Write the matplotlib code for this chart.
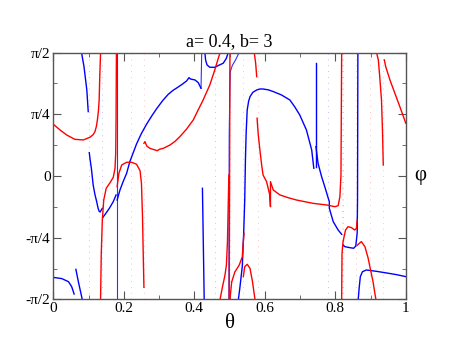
import numpy as np
import matplotlib
matplotlib.use("Agg")
import matplotlib.pyplot as plt

plt.rcParams['font.family'] = ['Liberation Serif', 'DejaVu Serif']

# phi values are given in units of pi/2
b1_t = [0, 0.024, 0.043, 0.052, 0.059]
b1_u = [-0.822, -0.832, -0.857, -0.897, -0.957]
b2_t = [0.064, 0.071, 0.082]
b2_u = [-0.757, -0.857, -1.0]
b3_t = [0.080, 0.087, 0.095, 0.099]
b3_u = [1.0, 0.886, 0.697, 0.522]
b4_t = [0.102, 0.104, 0.108, 0.113, 0.118, 0.123, 0.127, 0.130, 0.133, 0.135, 0.139]
b4_u = [0.189, 0.140, 0.060, -0.073, -0.150, -0.208, -0.262, -0.286, -0.292, -0.281, -0.262]
b5_t = [0.140, 0.147, 0.159, 0.170, 0.178]
b5_u = [-0.338, -0.311, -0.262, -0.208, -0.154]
b5v_t = [0.181, 0.181]
b5v_u = [-1.0, 1.0]
b6_t = [0.181, 0.189, 0.198, 0.208, 0.217, 0.236, 0.250, 0.265, 0.280, 0.293, 0.310,
        0.326, 0.340, 0.350, 0.365, 0.378, 0.385, 0.389, 0.402, 0.411, 0.419]
b6_u = [-0.195, -0.114, -0.046, 0.022, 0.116, 0.259, 0.345, 0.422, 0.490, 0.545, 0.610,
        0.662, 0.695, 0.713, 0.742, 0.770, 0.797, 0.786, 0.778, 0.757, 0.711]
b6s_t = [0.419, 0.421]
b6s_u = [0.711, 1.0]
b7_t = [0.430, 0.432, 0.436, 0.444, 0.458, 0.468, 0.482, 0.491, 0.496]
b7_u = [1.0, 0.940, 0.900, 0.881, 0.881, 0.895, 0.914, 0.954, 1.0]
b8_t = [0.527, 0.518, 0.508, 0.502, 0.501, 0.499, 0.498]
b8_u = [1.0, 0.946, 0.897, 0.846, 0.724, 0.346, -1.0]
b9_t = [0.423, 0.428]
b9_u = [-0.10, -1.0]
b10_t = [0.525, 0.529, 0.536, 0.540, 0.543, 0.545, 0.547, 0.550, 0.554, 0.558, 0.566,
         0.577, 0.586, 0.595, 0.610, 0.624, 0.647, 0.671, 0.685, 0.699, 0.718, 0.733, 0.739]
b10_u = [-1.0, -0.911, -0.735, -0.465, -0.195, 0.130, 0.346, 0.535, 0.605, 0.643, 0.678,
         0.697, 0.705, 0.705, 0.698, 0.684, 0.657, 0.616, 0.560, 0.495, 0.373, 0.211, 0.062]
b11_t = [0.744, 0.744]
b11_u = [0.914, 0.076]
b12_t = [0.745, 0.751, 0.761, 0.770, 0.780, 0.783, 0.783, 0.794, 0.808, 0.818]
b12_u = [0.238, 0.103, -0.005, -0.086, -0.181, -0.208, -0.262, -0.370, -0.438, -0.473]
b13_t = [0.822, 0.827, 0.841, 0.852, 0.858, 0.862, 0.863, 0.864]
b13_u = [-0.559, -0.573, -0.581, -0.586, -0.568, -0.465, -0.195, 1.0]
b14_t = [0.865, 0.868, 0.871, 0.877, 0.888, 0.917, 0.945, 0.974, 1.0]
b14_u = [-1.0, -0.897, -0.816, -0.776, -0.762, -0.773, -0.786, -0.800, -0.816]

r1_t = [0, 0.019, 0.038, 0.061, 0.085, 0.104, 0.113, 0.118, 0.122, 0.125, 0.128,
        0.130, 0.132, 0.134]
r1_u = [0.419, 0.373, 0.332, 0.297, 0.292, 0.314, 0.335, 0.359, 0.400, 0.454, 0.530,
        0.616, 0.832, 1.0]
r2_t = [0.134, 0.136, 0.139, 0.143, 0.150, 0.161, 0.170, 0.175, 0.177, 0.178, 0.179]
r2_u = [-1.0, -0.627, -0.357, -0.195, -0.100, -0.054, -0.011, 0.062, 0.184, 0.481, 1.0]
r3_t = [0.181, 0.186, 0.194, 0.208, 0.222, 0.236, 0.246, 0.250, 0.253, 0.255, 0.257]
r3_u = [-0.086, 0.022, 0.089, 0.111, 0.111, 0.095, 0.043, -0.059, -0.330, -0.627, -0.903]
r4_t = [0.257, 0.260, 0.265, 0.274, 0.288, 0.295, 0.301, 0.312, 0.331, 0.345, 0.359,
        0.378, 0.397, 0.410, 0.425, 0.444, 0.458, 0.468, 0.473]
r4_u = [0.265, 0.278, 0.243, 0.224, 0.211, 0.205, 0.216, 0.224, 0.251, 0.280, 0.319,
        0.380, 0.454, 0.530, 0.616, 0.738, 0.859, 0.954, 1.0]
r5_t = [0.501, 0.499]
r5_u = [1.0, -1.0]
r6_t = [0.473, 0.480, 0.487, 0.491, 0.494, 0.496, 0.498]
r6_u = [-1.0, -0.897, -0.803, -0.722, -0.532, -0.262, 0.008]
r7_t = [0.501, 0.506, 0.515, 0.527, 0.536, 0.539, 0.541]
r7_u = [-1.0, -0.859, -0.778, -0.724, -0.657, -0.534, -0.465]
r8_t = [0.539, 0.543, 0.550, 0.558, 0.565, 0.572]
r8_u = [-0.816, -0.735, -0.716, -0.749, -0.857, -1.0]
r9_t = [0.570, 0.574, 0.577]
r9_u = [1.0, 0.914, 0.805]
r10_t = [0.578, 0.581, 0.586, 0.591, 0.595, 0.605, 0.614, 0.616, 0.616, 0.624,
         0.643, 0.666, 0.690, 0.737, 0.775, 0.799, 0.808, 0.813, 0.816, 0.818]
r10_u = [0.468, 0.346, 0.211, 0.089, 0.008, -0.046, -0.154, -0.249, -0.046, -0.114,
         -0.154, -0.176, -0.195, -0.222, -0.235, -0.249, -0.241, -0.168, 0.008, 1.0]
r11_t = [0.818, 0.819, 0.822, 0.829, 0.836, 0.846, 0.855, 0.860, 0.862]
r11_u = [-1.0, -0.627, -0.532, -0.438, -0.411, -0.419, -0.438, -0.424, -0.357]
r12_t = [0.862, 0.868, 0.874, 0.884, 0.893, 0.898, 0.907, 0.915]
r12_u = [-0.562, -0.546, -0.532, -0.573, -0.665, -0.735, -0.857, -1.0]
r13_t = [0.917, 0.922, 0.926, 0.931, 0.934, 0.936]
r13_u = [1.0, 0.941, 0.805, 0.616, 0.346, 0.089]
r14_t = [0.939, 0.943, 0.955, 0.969, 0.983, 1.0]
r14_u = [0.941, 0.886, 0.778, 0.670, 0.562, 0.427]

# faint dotted asymptote traces
blue_dots = [0.102, 0.138, 0.182, 0.458, 0.780, 0.823]
red_dots = [0.180, 0.220, 0.257, 0.500, 0.538, 0.580, 0.820, 0.860, 0.898, 0.935]

blue_curves = [(b1_t, b1_u), (b2_t, b2_u), (b3_t, b3_u), (b4_t, b4_u), (b5_t, b5_u),
               (b6_t, b6_u), (b7_t, b7_u), (b9_t, b9_u), (b10_t, b10_u),
               (b11_t, b11_u), (b12_t, b12_u), (b13_t, b13_u), (b14_t, b14_u)]
blue_thin = [(b5v_t, b5v_u), (b6s_t, b6s_u), (b8_t, b8_u)]
red_curves = [(r1_t, r1_u), (r2_t, r2_u), (r3_t, r3_u), (r4_t, r4_u), (r5_t, r5_u),
              (r6_t, r6_u), (r7_t, r7_u), (r8_t, r8_u), (r9_t, r9_u), (r10_t, r10_u),
              (r11_t, r11_u), (r12_t, r12_u), (r13_t, r13_u), (r14_t, r14_u)]

fig = plt.figure(figsize=(4.57, 3.53), dpi=100)
ax = fig.add_axes([0.1167, 0.152, 0.7713, 0.699])

half = np.pi / 2
for x in blue_dots:
    ax.plot([x, x], [-half, half], color='#6060ff', lw=0.6, ls=(0, (1, 6)), alpha=0.5)
for x in red_dots:
    ax.plot([x, x], [-half, half], color='#ff6060', lw=0.6, ls=(0, (1, 6)), alpha=0.5)

for t, u in blue_thin:
    ax.plot(t, np.array(u) * half, color='#3030ff', lw=0.8)
for t, u in blue_curves:
    ax.plot(t, np.array(u) * half, color='#0000ff', lw=1.0)
for t, u in red_curves:
    ax.plot(t, np.array(u) * half, color='#ff0000', lw=1.0)

ax.set_xlim(0, 1)
ax.set_ylim(-half, half)
ax.set_xticks([0, 0.2, 0.4, 0.6, 0.8, 1])
ax.set_xticklabels(['0', '0.2', '0.4', '0.6', '0.8', '1'])
ax.set_xticks(np.arange(0.1, 1.0, 0.2), minor=True)
ax.set_yticks([-half, -half / 2, 0, half / 2, half])
ax.set_yticklabels(['-π/2', '-π/4', '0', 'π/4', 'π/2'])
ax.set_yticks([-3 * np.pi / 8, -np.pi / 8, np.pi / 8, 3 * np.pi / 8], minor=True)
ax.tick_params(which='both', direction='in', top=True, right=True,
               labelsize=11, pad=2, color='#555555')
ax.tick_params(which='major', length=6)
ax.tick_params(which='minor', length=3)
for s in ax.spines.values():
    s.set_color('#555555')
    s.set_linewidth(1.0)

ax.set_title('a= 0.4, b= 3', fontsize=13, pad=5)
ax.set_xlabel('θ', fontsize=15, labelpad=-1)
ax.text(1.025, 0.5, 'φ', transform=ax.transAxes, fontsize=15, va='center', ha='left')

fig.savefig('out.png', dpi=100)
